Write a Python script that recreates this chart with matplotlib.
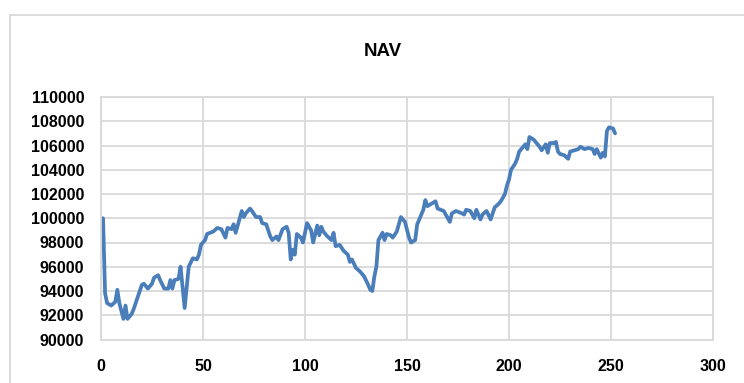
import matplotlib.pyplot as plt
from matplotlib.lines import Line2D

# day index and NAV values
day = [1, 2, 3, 5, 7, 8, 9, 11, 12, 13, 15, 16, 18, 20, 21, 23, 25, 26, 28, 29,
       31, 33, 34, 35, 36, 38, 39, 41, 43, 45, 47, 48, 49, 51, 52, 55, 57, 59, 61, 62,
       64, 65, 66, 69, 70, 71, 73, 74, 76, 78, 79, 81, 83, 84, 86, 87, 89, 91, 92, 93,
       94, 95, 96, 98, 99, 101, 103, 104, 106, 107, 108, 109, 111, 113, 114, 115, 117, 119, 121, 122,
       123, 125, 127, 129, 131, 132, 133, 134, 135, 136, 138, 139, 140, 142, 143, 145, 146, 147, 149, 151,
       152, 154, 155, 156, 158, 159, 160, 161, 164, 165, 168, 169, 171, 172, 174, 177, 178, 179, 181, 183,
       184, 185, 186, 187, 189, 191, 192, 193, 195, 196, 198, 199, 200, 201, 203, 204, 205, 207, 208, 209,
       210, 212, 213, 215, 216, 218, 219, 220, 222, 223, 224, 225, 227, 229, 230, 232, 234, 235, 237, 239,
       241, 242, 243, 245, 246, 247, 248, 249, 251, 252]
nav = [100000, 93800, 93000, 92800, 93100, 94100, 93000, 91700, 92800, 91700, 92100, 92500, 93500, 94500, 94600, 94200, 94600, 95100, 95300, 94900,
       94200, 94200, 94900, 94200, 94900, 95000, 96000, 92600, 96000, 96700, 96600, 97000, 97800, 98200, 98700, 98900, 99200, 99100, 98400, 99200,
       99100, 99500, 98800, 100600, 100100, 100400, 100800, 100600, 100100, 100100, 99600, 99500, 98500, 98200, 98500, 98200, 99100, 99300, 98800, 96600,
       97400, 97000, 98700, 98400, 98000, 99600, 99000, 98000, 99400, 98600, 99300, 98900, 98500, 98200, 98800, 97700, 97800, 97300, 97000, 96400,
       96600, 95900, 95600, 95200, 94500, 94100, 94000, 95200, 96000, 98200, 98800, 98200, 98700, 98600, 98400, 98900, 99500, 100100, 99700, 98400,
       98000, 98200, 99500, 99900, 100700, 101500, 101000, 101100, 101400, 100800, 100600, 100300, 99700, 100400, 100600, 100400, 100300, 100700, 100600, 100000,
       100700, 100300, 99900, 100300, 100600, 99900, 100400, 100900, 101200, 101400, 102000, 102700, 103200, 104000, 104500, 104900, 105500, 105900, 106100, 105700,
       106700, 106500, 106300, 105900, 105600, 106100, 105400, 106200, 106200, 106300, 105500, 105300, 105200, 104900, 105500, 105600, 105700, 105900, 105700, 105800,
       105700, 105300, 105700, 105000, 105400, 105100, 107200, 107500, 107400, 107000]

grid_col = '#d9d9d9'
plt.rcParams['font.family'] = ['Liberation Sans', 'DejaVu Sans']

fig = plt.figure(figsize=(7.44, 3.83), dpi=100)
ax = fig.add_axes([101/744, 1-339.5/383, (713-101)/744, (339.5-97)/383])

ax.plot(day, nav, color='#4a7ebb', lw=2.7, solid_joinstyle='round', solid_capstyle='round')

ax.set_xlim(0, 300)
ax.set_ylim(90000, 110000)
ax.set_xticks(range(0, 301, 50))
ax.set_yticks(range(90000, 110001, 2000))
ax.grid(True, color=grid_col, lw=1.3)
ax.set_axisbelow(True)
for s in ax.spines.values():
    s.set_color(grid_col)
    s.set_linewidth(1.3)
ax.tick_params(length=0, labelsize=11.5)
ax.tick_params(axis='y', pad=12)
ax.tick_params(axis='x', pad=14)
for lab in ax.get_xticklabels() + ax.get_yticklabels():
    lab.set_fontweight('bold')

fig.text(383/744, 1-51/383, 'NAV', ha='center', va='center',
         fontsize=13.5, fontweight='bold')

# outer chart border (left and top edges visible)
fig.add_artist(Line2D([10/744, 10/744, 1.0], [0.0, 1-15/383, 1-15/383],
                      transform=fig.transFigure, color=grid_col, lw=1.3))

fig.savefig('out.png', dpi=100)
